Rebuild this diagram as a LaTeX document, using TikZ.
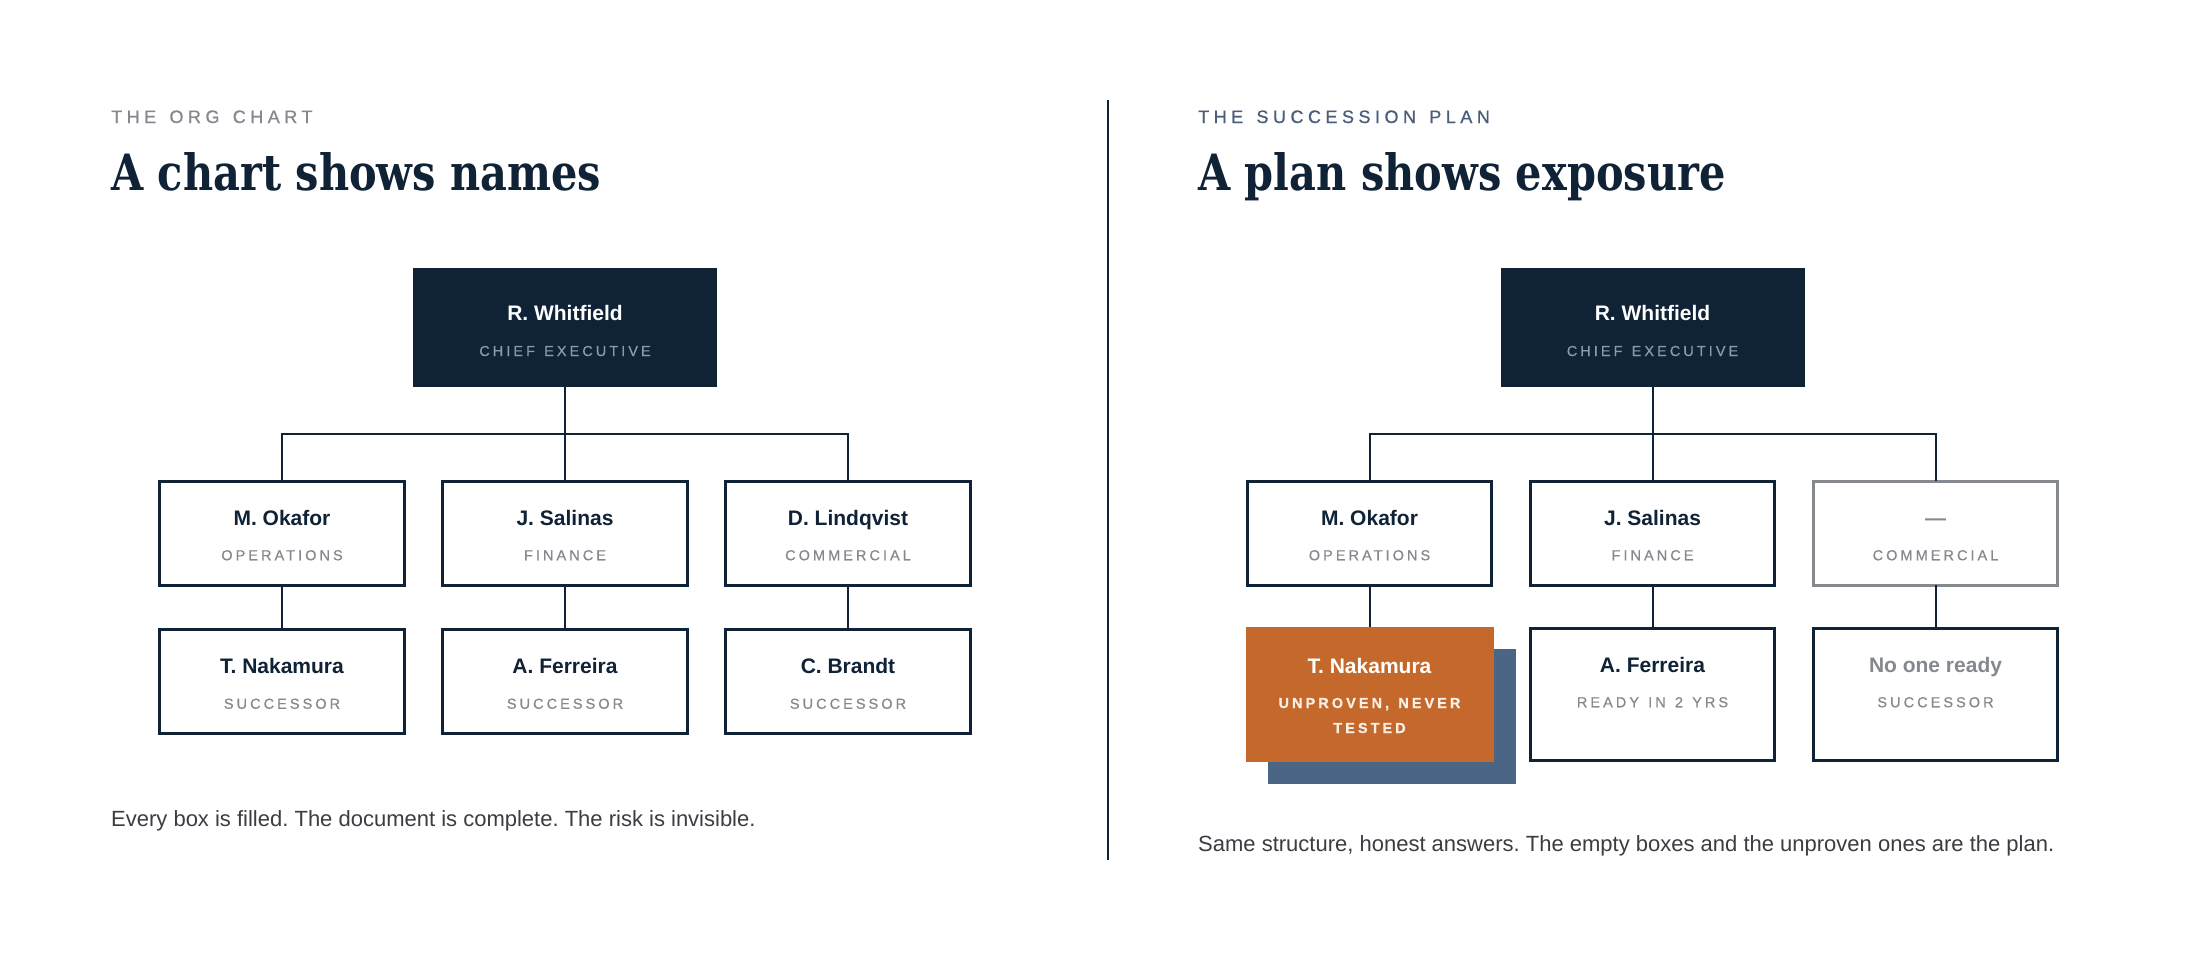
\documentclass[tikz,border=0pt]{standalone}
\usepackage{fontspec}
\setmainfont{Liberation Sans}
\newfontfamily\headfont{DejaVu Serif}
\newfontfamily\capsfont{Liberation Sans}[LetterSpace=21,WordSpace=1.3,FakeBold=0.6]
\newfontfamily\eyefont{Liberation Sans}[LetterSpace=25,WordSpace=1.4,FakeBold=0.8]
\usetikzlibrary{calc}
\definecolor{navy}{HTML}{0F2236}
\definecolor{orng}{HTML}{C4692B}
\definecolor{slate}{HTML}{4B6584}
\definecolor{graytxt}{HTML}{85898F}
\definecolor{ceosub}{HTML}{8A9BAD}
\definecolor{eyeblue}{HTML}{4A5E7A}
\definecolor{captxt}{HTML}{3A3D42}
\definecolor{uncream}{HTML}{FBEFE6}
\frenchspacing
\tikzset{
  box/.style={draw=navy, line width=2.6pt, fill=white, minimum width=244.5pt, minimum height=104pt, inner sep=0pt, outer sep=0pt},
  tallbox/.style={box, minimum height=132.5pt},
  graybox/.style={box, draw=graytxt},
  ceobox/.style={fill=navy, minimum width=304pt, minimum height=119pt, inner sep=0pt, outer sep=0pt},
  orbox/.style={fill=orng, minimum width=248pt, minimum height=135pt, inner sep=0pt, outer sep=0pt},
  shbox/.style={fill=slate, minimum width=248pt, minimum height=135pt, inner sep=0pt, outer sep=0pt},
  nm/.style={anchor=base, inner sep=0pt, font=\fontsize{21}{25}\selectfont\bfseries, text=navy},
  rl/.style={anchor=base, inner sep=0pt, font=\capsfont\fontsize{14.5}{18}\selectfont, text=graytxt},
  conn/.style={draw=navy, line width=2pt},
  eyebrow/.style={anchor=base west, inner sep=0pt, font=\eyefont\fontsize{18}{22}\selectfont},
  heading/.style={anchor=base west, inner sep=0pt, text=navy},
  caption/.style={anchor=base west, inner sep=0pt, font=\fontsize{22}{26}\selectfont, text=captxt}
}
\newcommand{\headtext}[1]{\scalebox{0.83}[1]{\headfont\bfseries\fontsize{50}{60}\selectfont #1}}
\begin{document}
\begin{tikzpicture}[x=1pt,y=-1pt]
\fill[white] (0,0) rectangle (2200,961);
\useasboundingbox (0,0) rectangle (2200,961);

% ---------------- left panel ----------------
\node[eyebrow, text=graytxt] (e1) at (111,123) {THE ORG CHART};
\node[heading] (h1) at (111,190) {\headtext{A chart shows names}};

\node[ceobox] (ceo) at (565,327.5) {};
\node[nm, text=white] (ceon) at ($(ceo.north)+(0,52)$) {R. Whitfield};
\node[rl, text=ceosub] (ceor) at ($(ceo.north)+(0,88)$) {CHIEF EXECUTIVE};

\node[box] (m1) at (282,533.25) {};
\node[box] (m2) at (565,533.25) {};
\node[box] (m3) at (848,533.25) {};
\node[box] (b1) at (282,681.75) {};
\node[box] (b2) at (565,681.75) {};
\node[box] (b3) at (848,681.75) {};

\coordinate (bus) at (565,433.5);
\draw[conn] (ceo.south) -- (bus);
\draw[conn] (m1.north) |- (bus);
\draw[conn] (m3.north) |- (bus);
\draw[conn] (m2.north) -- (bus);
\draw[conn] (m1.south) -- (b1.north);
\draw[conn] (m2.south) -- (b2.north);
\draw[conn] (m3.south) -- (b3.north);

\node[nm] (m1n) at ($(m1.north)+(0,44)$) {M. Okafor};
\node[rl] (m1r) at ($(m1.north)+(0,79)$) {OPERATIONS};
\node[nm] (m2n) at ($(m2.north)+(0,44)$) {J. Salinas};
\node[rl] (m2r) at ($(m2.north)+(0,79)$) {FINANCE};
\node[nm] (m3n) at ($(m3.north)+(0,44)$) {D. Lindqvist};
\node[rl] (m3r) at ($(m3.north)+(0,79)$) {COMMERCIAL};
\node[nm] (b1n) at ($(b1.north)+(0,44)$) {T. Nakamura};
\node[rl] (b1r) at ($(b1.north)+(0,79)$) {SUCCESSOR};
\node[nm] (b2n) at ($(b2.north)+(0,44)$) {A. Ferreira};
\node[rl] (b2r) at ($(b2.north)+(0,79)$) {SUCCESSOR};
\node[nm] (b3n) at ($(b3.north)+(0,44)$) {C. Brandt};
\node[rl] (b3r) at ($(b3.north)+(0,79)$) {SUCCESSOR};

\node[caption] (c1) at (111,826.5) {Every box is filled. The document is complete. The risk is invisible.};

% ---------------- divider ----------------
\coordinate (dtop) at (1108,100);
\coordinate (dbot) at (1108,860);
\draw[navy, line width=2pt] (dtop) -- (dbot);

% ---------------- right panel ----------------
\node[eyebrow, text=eyeblue] (e2) at (1198,123) {THE SUCCESSION PLAN};
\node[heading] (h2) at (1198,190) {\headtext{A plan shows exposure}};

\node[ceobox] (rceo) at (1652.5,327.5) {};
\node[nm, text=white] (rceon) at ($(rceo.north)+(0,52)$) {R. Whitfield};
\node[rl, text=ceosub] (rceor) at ($(rceo.north)+(0,88)$) {CHIEF EXECUTIVE};

\node[box] (rm1) at (1369.5,533.25) {};
\node[box] (rm2) at (1652.5,533.25) {};
\node[graybox] (rm3) at (1935.5,533.25) {};
\node[shbox] (rsh) at (1391.5,716.5) {};
\node[orbox] (rb1) at (1369.5,694.5) {};
\node[tallbox] (rb2) at (1652.5,694.5) {};
\node[tallbox] (rb3) at (1935.5,694.5) {};

\coordinate (rbus) at (1652.5,433.5);
\draw[conn] (rceo.south) -- (rbus);
\draw[conn] (rm1.north) |- (rbus);
\draw[conn] (rm3.north) |- (rbus);
\draw[conn] (rm2.north) -- (rbus);
\draw[conn] (rm1.south) -- (rb1.north);
\draw[conn] (rm2.south) -- (rb2.north);
\draw[conn] (rm3.south) -- (rb3.north);

\node[nm] (rm1n) at ($(rm1.north)+(0,44)$) {M. Okafor};
\node[rl] (rm1r) at ($(rm1.north)+(0,79)$) {OPERATIONS};
\node[nm] (rm2n) at ($(rm2.north)+(0,44)$) {J. Salinas};
\node[rl] (rm2r) at ($(rm2.north)+(0,79)$) {FINANCE};
\node[nm, text=graytxt] (rm3n) at ($(rm3.north)+(0,44)$) {—};
\node[rl] (rm3r) at ($(rm3.north)+(0,79)$) {COMMERCIAL};
\node[nm, text=white] (rb1n) at ($(rb1.north)+(0,46)$) {T. Nakamura};
\node[rl, text=uncream, font=\capsfont\fontsize{14.5}{18}\selectfont\bfseries] (rb1r) at ($(rb1.north)+(0,81)$) {UNPROVEN, NEVER};
\node[rl, text=uncream, font=\capsfont\fontsize{14.5}{18}\selectfont\bfseries] (rb1s) at ($(rb1.north)+(0,106)$) {TESTED};
\node[nm] (rb2n) at ($(rb2.north)+(0,44)$) {A. Ferreira};
\node[rl] (rb2r) at ($(rb2.north)+(0,79)$) {READY IN 2 YRS};
\node[nm, text=graytxt] (rb3n) at ($(rb3.north)+(0,44)$) {No one ready};
\node[rl] (rb3r) at ($(rb3.north)+(0,79)$) {SUCCESSOR};

\node[caption] (c2) at (1198,851) {Same structure, honest answers. The empty boxes and the unproven ones are the plan.};
\end{tikzpicture}
\end{document}
